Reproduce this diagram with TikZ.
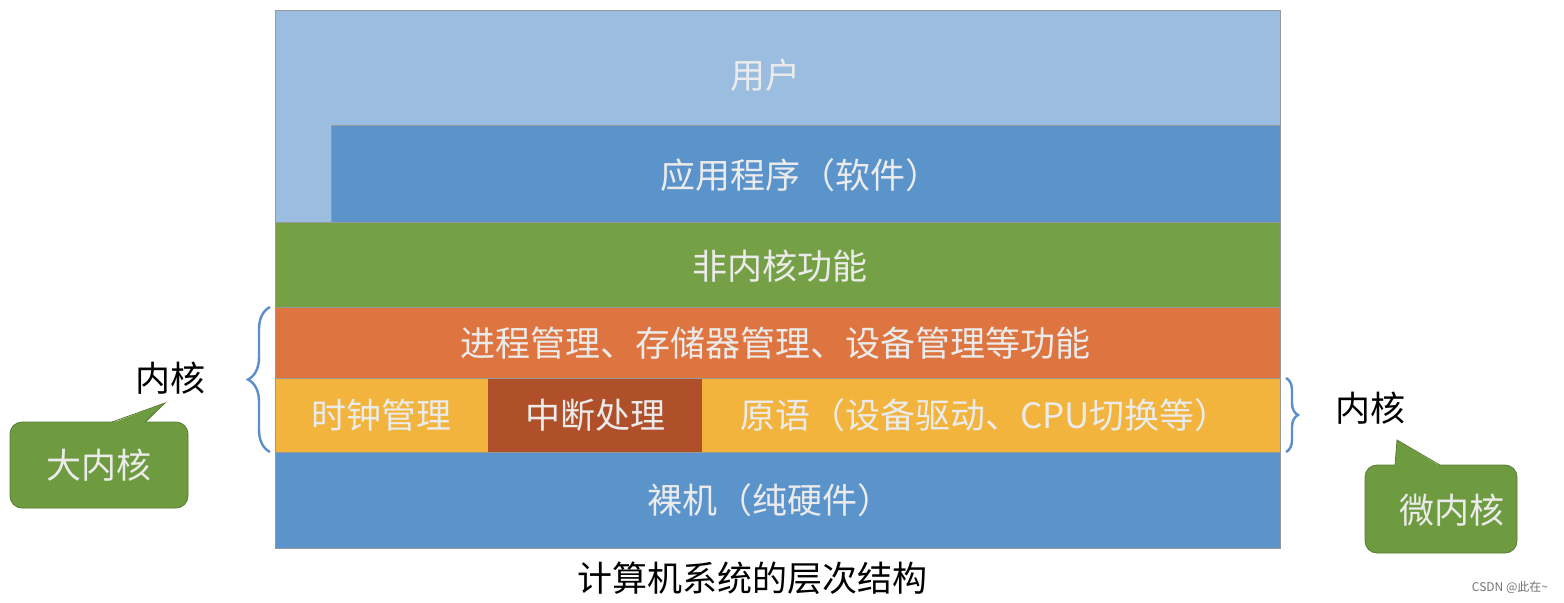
\documentclass[tikz,border=0pt]{standalone}
\usepackage{fontspec}
\setmainfont{Noto Sans CJK SC}
\usetikzlibrary{decorations.pathreplacing}
\definecolor{ublue}{HTML}{9BBDE0}
\definecolor{ablue}{HTML}{5B93CB}
\definecolor{ggreen}{HTML}{76A046}
\definecolor{oor}{HTML}{DE7540}
\definecolor{yy}{HTML}{F2B43C}
\definecolor{brn}{HTML}{B0502A}
\definecolor{cgreen}{HTML}{6E9B40}
\definecolor{brc}{HTML}{5B8FCB}
\tikzset{x=0.5pt,y=-0.5pt,
 lay/.style={draw=black!40,line width=0.5pt},
 wt/.style={text=white!92!black,font=\fontsize{17.5}{17.5}\selectfont},
 bk/.style={text=black,font=\fontsize{17.5}{17.5}\selectfont},
 call/.style={fill=cgreen,draw=cgreen!80!black,rounded corners=6pt},
 br/.style={draw=brc,line width=1.2pt,decorate,decoration={brace,amplitude=#1}}}
\begin{document}
\begin{tikzpicture}
\useasboundingbox (0,0) rectangle (1564,602);
\fill[white] (0,0) rectangle (1564,602);
\fill[ublue] (275,10) rectangle (1280,222);
\fill[ablue] (331,125) rectangle (1280,222);
\draw[black!40] (331,222) -- (331,125) -- (1280,125);
\node[wt] (user) at (765,75) {用户};
\node[wt] (app) at (800,175) {应用程序（软件）};
\fill[ggreen] (275,222) rectangle (1280,307);
\node[wt] (nk) at (780,266) {非内核功能};
\fill[oor] (275,307) rectangle (1280,378);
\node[wt] (pm) at (775,343) {进程管理、存储器管理、设备管理等功能};
\fill[yy] (275,378) rectangle (488,452);
\fill[brn] (488,378) rectangle (702,452);
\fill[yy] (702,378) rectangle (1280,452);
\node[wt] (clk) at (381,415) {时钟管理};
\node[wt] (intr) at (595,415) {中断处理};
\node[wt] (prim) at (985,415) {原语（设备驱动、CPU切换等）};
\fill[ablue] (275,452) rectangle (1280,548);
\node[wt] (bare) at (770,500) {裸机（纯硬件）};
\foreach \y in {222,307,378,452} \draw[black!40] (275,\y) -- (1280,\y);
\draw[lay] (275,10) rectangle (1280,548);
\node[bk] (cap) at (752,578) {计算机系统的层次结构};
\coordinate (lt) at (270,307); \coordinate (lb) at (270,452);
\draw[br=11pt] (lb) -- (lt);
\node[bk] (k1) at (170,378) {内核};
\coordinate (rt) at (1286,378); \coordinate (rb) at (1286,452);
\draw[br=6pt] (rt) -- (rb);
\node[bk] (k2) at (1370,408) {内核};
\draw[call] (10,422) rectangle (188,508);
\fill[cgreen] (112,423) -- (165,403) -- (145,423) -- cycle;
\draw[cgreen!80!black] (112,422) -- (165,403) -- (145,422);
\node[wt] (big) at (99,465) {大内核};
\draw[call] (1365,465) rectangle (1517,553);
\fill[cgreen] (1395,466) -- (1397,440) -- (1440,466) -- cycle;
\draw[cgreen!80!black] (1395,465) -- (1397,440) -- (1440,465);
\node[wt] (micro) at (1452,510) {微内核};
\node[text=black!55,font=\fontsize{6}{6}\selectfont] (wm) at (1510,587) {CSDN @此在\textasciitilde};
\end{tikzpicture}
\end{document}
